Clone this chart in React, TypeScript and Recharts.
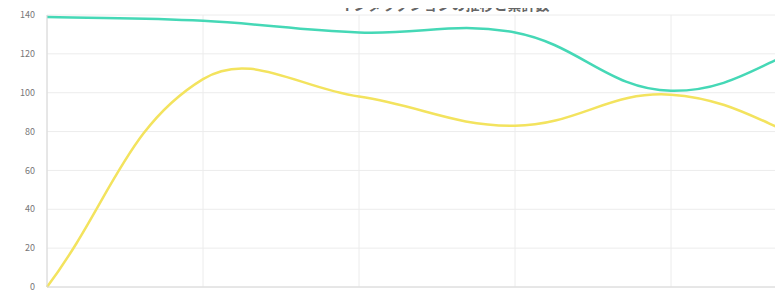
import React from "react";
import { LineChart, Line, XAxis, YAxis, CartesianGrid } from "recharts";

const categories = ["6時間", "12月4日 16:00", "12月5日 00:00", "12月5日 08:00", "12月5日 16:00", "12月6日 00:00"];
const totalSeries = [139, 137, 131, 131, 101, 128];
const changeSeries = [0, 107, 98, 83, 99, 72];
const yTicks = [0, 20, 40, 60, 80, 100, 120, 140];
const title = "インタラクションの推移と累計数";

const data = categories.map((c, i) => ({ name: c, total: totalSeries[i], change: changeSeries[i] }));

// Tension-based spline (cardinal-like) curve factory
function tensionCurve(context: any) {
  let pts: number[][] = [];
  return {
    areaStart() {},
    areaEnd() {},
    lineStart() {
      pts = [];
    },
    point(x: number, y: number) {
      pts.push([+x, +y]);
    },
    lineEnd() {
      const n = pts.length;
      if (!n) return;
      context.moveTo(pts[0][0], pts[0][1]);
      if (n === 1) return;
      const t = 0.4;
      const cps = pts.map((p, i) => {
        const prev = pts[Math.max(0, i - 1)];
        const next = pts[Math.min(n - 1, i + 1)];
        const d01 = Math.hypot(p[0] - prev[0], p[1] - prev[1]);
        const d12 = Math.hypot(next[0] - p[0], next[1] - p[1]);
        let s01 = d01 / (d01 + d12);
        let s12 = d12 / (d01 + d12);
        if (isNaN(s01)) s01 = 0;
        if (isNaN(s12)) s12 = 0;
        const fa = t * s01;
        const fb = t * s12;
        return {
          p: [p[0] - fa * (next[0] - prev[0]), p[1] - fa * (next[1] - prev[1])],
          n: [p[0] + fb * (next[0] - prev[0]), p[1] + fb * (next[1] - prev[1])],
        };
      });
      for (let i = 1; i < n; i++) {
        context.bezierCurveTo(cps[i - 1].n[0], cps[i - 1].n[1], cps[i].p[0], cps[i].p[1], pts[i][0], pts[i][1]);
      }
    },
  };
}

export default function App() {
  return (
    <div style={{ margin: -8, width: 783, height: 300, overflow: "hidden", position: "relative", background: "#fff" }}>
      <div
        style={{
          position: "absolute",
          left: 322,
          top: -6,
          width: 245,
          textAlign: "center",
          fontFamily: "'Noto Sans CJK JP', sans-serif",
          fontSize: 14,
          fontWeight: 700,
          color: "#666",
          whiteSpace: "nowrap",
        }}
      >
        {title}
      </div>
      <LineChart width={888} height={307} data={data} margin={{ top: 15, right: 61, bottom: 0, left: 0 }}>
        <CartesianGrid stroke="#ececec" strokeWidth={1} />
        <XAxis
          dataKey="name"
          padding={{ left: 0, right: 0 }}
          tick={{ fontSize: 9, fill: "#777", fontFamily: "'Noto Sans CJK JP', sans-serif" }}
          tickLine={false}
          axisLine={{ stroke: "#d8d8d8" }}
          height={20}
          tickMargin={2}
          interval={0}
        />
        <YAxis
          domain={[0, 140]}
          ticks={yTicks}
          width={47}
          tick={{ fontSize: 9, fill: "#777", fontFamily: "'Noto Sans CJK JP', sans-serif" }}
          tickLine={false}
          axisLine={{ stroke: "#d8d8d8" }}
          tickMargin={6}
        />
        <Line type={tensionCurve as any} dataKey="total" stroke="#45d8b6" strokeWidth={2.5} dot={false} isAnimationActive={false} />
        <Line type={tensionCurve as any} dataKey="change" stroke="#f3e35e" strokeWidth={2.5} dot={false} isAnimationActive={false} />
      </LineChart>
    </div>
  );
}
